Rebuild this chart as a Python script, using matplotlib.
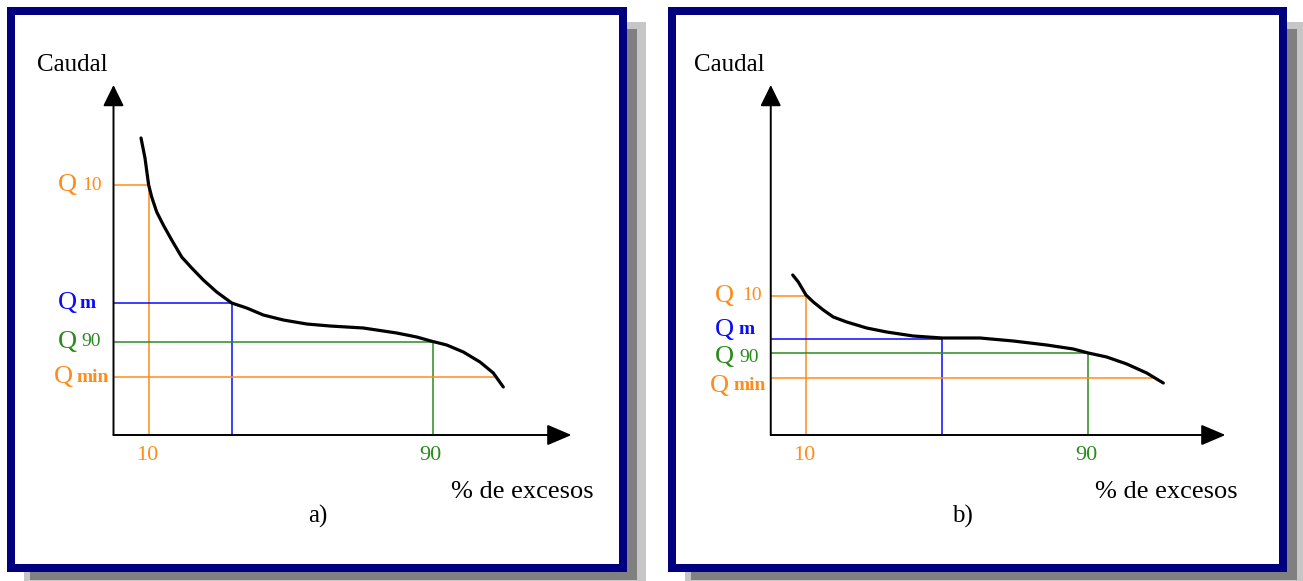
import matplotlib
matplotlib.use('Agg')
import matplotlib.pyplot as plt
from matplotlib.patches import Rectangle

# flow duration curves (x: % de excesos, y: caudal, arbitrary units)
curve_a_x = [7.75, 8.87, 9.9, 10.76, 12.17, 14.03, 16.39, 19.21, 22.03, 25.3, 29.07, 33.3,
             37.52, 42.2, 47.83, 54.42, 60.99, 70.37, 79.77, 85.41, 89.4, 93.86, 98.54,
             103.24, 106.99, 109.8]
curve_a_y = [297, 277, 250, 238, 223, 210, 195, 178, 167, 155, 143, 132,
             127, 120, 115, 111, 109, 107, 102, 98, 94, 90, 83,
             73, 62, 48]
curve_b_x = [6.23, 7.82, 10.0, 12.07, 14.91, 17.74, 21.55, 27.22, 32.89, 40.44, 48.67,
             59.36, 68.81, 78.28, 85.83, 90.09, 95.3, 101.0, 106.65, 111.36]
curve_b_y = [160, 153, 140, 133, 125, 118, 113, 107, 103, 99, 97,
             97, 94, 90, 86, 82, 78, 71, 62, 52]

# reference levels: Q10, Qm, Q90, Qmin and where they meet the curve
levels_a = {'q10': 250, 'qm': 132, 'q90': 93.5, 'qmin': 58}
levels_b = {'q10': 139.5, 'qm': 96, 'q90': 82, 'qmin': 57.5}
qm_x_a, qm_x_b = 33.5, 48.6
qmin_x_a, qmin_x_b = 107.6, 108.1
tick_vals = [10, 90]
panel_labels = ['a)', 'b)']

W, H = 1303, 581
ORANGE = '#ff8c1a'
BLUE = '#0a0aff'
GREEN = '#2b8a1e'
NAVY = '#000080'
FONT = 'Liberation Serif'

fig = plt.figure(figsize=(W / 100, H / 100), dpi=100)
fig.patch.set_facecolor('white')

# background axes in pixel coordinates for frames and shadows
bg = fig.add_axes([0, 0, 1, 1])
bg.set_xlim(0, W)
bg.set_ylim(H, 0)
bg.axis('off')

for x0, x1 in [(7, 627), (668, 1287)]:
    bg.add_patch(Rectangle((x0 + 17, 22), x1 - x0 + 2, 560, facecolor='#c6c6c6', edgecolor='none'))
    bg.add_patch(Rectangle((x0 + 23, 29), x1 - x0 - 13, 551, facecolor='#808080', edgecolor='none'))
    bg.add_patch(Rectangle((x0 + 4, 11), x1 - x0 - 8, 557, facecolor='white',
                           edgecolor=NAVY, linewidth=8 * 0.72))


def make_axes(origin_px, scale):
    # axes whose data units map to pixels: px = origin + scale*x, py = 435 - y
    xlim = (-5, 135)
    ylim = (-30, 370)
    left = origin_px + scale * xlim[0]
    right = origin_px + scale * xlim[1]
    bottom_py = 435 - ylim[0]
    top_py = 435 - ylim[1]
    ax = fig.add_axes([left / W, (H - bottom_py) / H, (right - left) / W, (bottom_py - top_py) / H])
    ax.set_xlim(*xlim)
    ax.set_ylim(*ylim)
    ax.axis('off')
    ax.patch.set_alpha(0)
    return ax


def draw_panel(ax, cx, cy, lv, qm_x, qmin_x, label, label_pos, qlab, scale):
    lw = 1.1
    # reference lines
    ax.plot([0, 10, 10], [lv['q10'], lv['q10'], 0], color=ORANGE, lw=lw)
    ax.plot([0, qm_x, qm_x], [lv['qm'], lv['qm'], 0], color=BLUE, lw=lw)
    ax.plot([0, 90, 90], [lv['q90'], lv['q90'], 0], color=GREEN, lw=lw)
    ax.plot([0, qmin_x], [lv['qmin'], lv['qmin']], color=ORANGE, lw=lw)

    # curve
    ax.plot(cx, cy, color='black', lw=2.3, solid_capstyle='round', solid_joinstyle='round')

    # axes with arrows
    ax.annotate('', xy=(0, 350), xytext=(0, 0),
                arrowprops=dict(arrowstyle='-|>,head_length=0.65,head_width=0.32',
                                mutation_scale=20, color='black', lw=1.4, shrinkA=0, shrinkB=0))
    ax.annotate('', xy=(129, 0), xytext=(0, 0),
                arrowprops=dict(arrowstyle='-|>,head_length=0.75,head_width=0.32',
                                mutation_scale=20, color='black', lw=1.4, shrinkA=0, shrinkB=0))

    # tick labels
    for v, c in zip(tick_vals, [ORANGE, GREEN]):
        ax.text(v - 0.6, -21, str(v), color=c, fontsize=16, family=FONT, ha='center', va='center')

    # Q labels
    for key, col, sub, qx, sx, dy, bold in qlab:
        y = lv[key] + dy
        ax.text(qx / scale, y, 'Q', color=col, fontsize=19, family=FONT, ha='left', va='center')
        ax.text(sx / scale, y, sub, color=col, fontsize=14, family=FONT, ha='left', va='center',
                fontweight='bold' if bold else 'normal')

    ax.text(-21.5 * 3.55 / scale, 370, 'Caudal', fontsize=18, family=FONT, ha='left', va='center')
    ax.text(label_pos[0], -57, '% de excesos', fontsize=19, family=FONT, ha='left', va='center')
    ax.text(label_pos[1], -81, label, fontsize=18, family=FONT, ha='center', va='center')


ax_a = make_axes(113.5, 3.55)
qlab_a = [
    ('q10', ORANGE, '10', -55.5, -31, 0, False),
    ('qm', BLUE, 'm', -55.5, -33.5, 0, True),
    ('q90', GREEN, '90', -55.5, -32, 0, False),
    ('qmin', ORANGE, 'min', -59.5, -37, 0, True),
]
draw_panel(ax_a, curve_a_x, curve_a_y, levels_a, qm_x_a, qmin_x_a, panel_labels[0],
           (95, 57.6), qlab_a, 3.55)

ax_b = make_axes(770.75, 3.525)
qlab_b = [
    ('q10', ORANGE, '10', -55.5, -29, 0, False),
    ('qm', BLUE, 'm', -55.5, -32, 9, True),
    ('q90', GREEN, '90', -55.5, -31, -4, False),
    ('qmin', ORANGE, 'min', -60.5, -37.5, -8, True),
]
draw_panel(ax_b, curve_b_x, curve_b_y, levels_b, qm_x_b, qmin_x_b, panel_labels[1],
           (92, 54.5), qlab_b, 3.525)

fig.savefig('out.png', dpi=100, facecolor='white')
